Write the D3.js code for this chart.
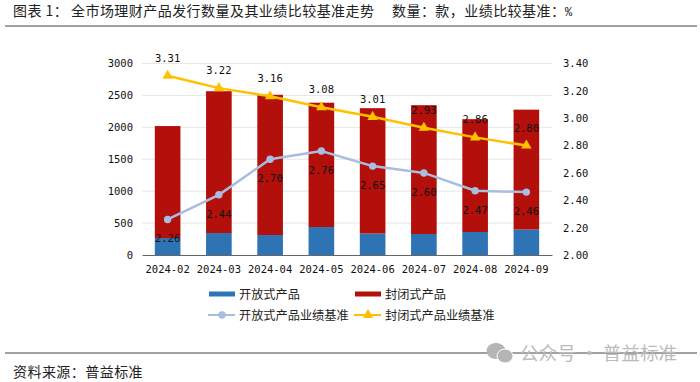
<!DOCTYPE html>
<html>
<head>
<meta charset="utf-8">
<script src="https://cdn.jsdelivr.net/npm/d3@7"></script>
<style>
body{margin:0;background:#fff;}
svg{display:block;}
text{font-family:"Noto Sans CJK SC",sans-serif;fill:#222;}
.num text,text.num{font-family:"DejaVu Sans Mono",monospace;font-size:10.5px;fill:#111;}
</style>
</head>
<body>
<script>
var months = ["2024-02","2024-03","2024-04","2024-05","2024-06","2024-07","2024-08","2024-09"];
var openCount = [266,344,313,438,336,329,360,399];
var closedCount = [1754,2222,2197,1948,1964,2018,1768,1878];
var openRate = [2.26,2.44,2.70,2.76,2.65,2.60,2.47,2.46];
var closedRate = [3.31,3.22,3.16,3.08,3.01,2.93,2.86,2.80];
var countTicks = [0,500,1000,1500,2000,2500,3000];
var rateTicks = [2.0,2.2,2.4,2.6,2.8,3.0,3.2,3.4];

const RED = "#b30f0b", BLUE = "#2e74b5", PALE = "#a9bde0", GOLD = "#ffc000";

var translate = function(x,y){
	return `translate(${x},${y})`;
};

var svg = d3.select('body').append('svg').attr("width",700).attr("height",382);

var xScale = d3.scaleBand().domain(months).range([142,552]).paddingInner(0.5).paddingOuter(0.25);
var yCount = d3.scaleLinear().domain([0,3000]).range([255,63.5]);
var yRate = d3.scaleLinear().domain([2,3.4]).range([255,63.5]);
var cx = function(i){ return xScale(months[i]) + xScale.bandwidth()/2; };

// header and footer
var writeHead = function(x,y,word){
	return svg.append('text').attr('x',x).attr('y',y).attr('font-size',14)
		.attr('letter-spacing',0.45).text(word);
};
writeHead(13,16.4,"图表 1：");
writeHead(71,16.4,"全市场理财产品发行数量及其业绩比较基准走势");
writeHead(392,16.4,"数量：款，业绩比较基准：");
svg.append('text').attr('x',565).attr('y',16).attr('font-size',12)
	.attr('style','font-family:"Liberation Mono",monospace').text("%");
svg.append('line').attr('x1',5).attr('x2',697).attr('y1',26).attr('y2',26).attr('stroke','#444').attr('stroke-width',1);
svg.append('line').attr('x1',5).attr('x2',697).attr('y1',353).attr('y2',353).attr('stroke','#444').attr('stroke-width',1);
writeHead(13,376.5,"资料来源：普益标准");

// grid
svg.append('g').selectAll('line').data(countTicks.slice(1)).join('line')
	.attr('x1',142).attr('x2',552)
	.attr('y1',d=>yCount(d)).attr('y2',d=>yCount(d))
	.attr('stroke','#e6e6e6').attr('stroke-width',1);

// bars
svg.append('g').selectAll('rect').data(openCount).join('rect')
	.attr('x',(d,i)=>xScale(months[i])).attr('width',xScale.bandwidth())
	.attr('y',d=>yCount(d)).attr('height',d=>yCount(0)-yCount(d))
	.attr('fill',BLUE);
svg.append('g').selectAll('rect').data(closedCount).join('rect')
	.attr('x',(d,i)=>xScale(months[i])).attr('width',xScale.bandwidth())
	.attr('y',(d,i)=>yCount(d+openCount[i])).attr('height',d=>yCount(0)-yCount(d))
	.attr('fill',RED);

// axes
var xAxis = svg.append('g').attr('class','num').attr('transform',translate(0,255))
	.call(d3.axisBottom(xScale).tickSize(0).tickPadding(10.5));
xAxis.select('.domain').attr('stroke','#666').attr('stroke-width',1);

var leftAxis = svg.append('g').attr('class','num').attr('transform',translate(142,0))
	.call(d3.axisLeft(yCount).tickValues(countTicks).tickFormat(d3.format("d")).tickSize(0).tickPadding(9));
leftAxis.select('.domain').remove();

var rightAxis = svg.append('g').attr('class','num').attr('transform',translate(552,0))
	.call(d3.axisRight(yRate).tickValues(rateTicks).tickFormat(d3.format(".2f")).tickSize(0).tickPadding(11));
rightAxis.select('.domain').remove();

// lines
var generateLine = d3.line().x((d,i)=>cx(i)).y(d=>yRate(d));
var triangle = d3.symbol().type(d3.symbolTriangle).size(48);

svg.append('path').attr('d',generateLine(openRate)).attr('fill','none').attr('stroke',PALE).attr('stroke-width',2.5);
svg.append('g').selectAll('circle').data(openRate).join('circle')
	.attr('cx',(d,i)=>cx(i)).attr('cy',d=>yRate(d)).attr('r',3.7).attr('fill',PALE);

svg.append('path').attr('d',generateLine(closedRate)).attr('fill','none').attr('stroke',GOLD).attr('stroke-width',2.5);
svg.append('g').selectAll('path').data(closedRate).join('path')
	.attr('d',triangle).attr('fill',GOLD)
	.attr('transform',(d,i)=>translate(cx(i),yRate(d)));

// value labels
var writeLabels = function(values,dy){
	svg.append('g').selectAll('text').data(values).join('text')
		.attr('class','num').attr('text-anchor','middle')
		.attr('x',(d,i)=>cx(i)).attr('y',d=>yRate(d)+dy)
		.text(d=>d.toFixed(2));
};
writeLabels(closedRate,-14);
writeLabels(openRate,23);

// legend
var legend = svg.append('g').attr('font-size',12.2);
var swatch = function(x,y,color){
	legend.append('rect').attr('x',x).attr('y',y-2.5).attr('width',26).attr('height',5).attr('fill',color);
};
var legendLine = function(x,y,color){
	legend.append('line').attr('x1',x).attr('x2',x+27).attr('y1',y).attr('y2',y).attr('stroke',color).attr('stroke-width',2);
};
var legendText = function(x,y,word){
	legend.append('text').attr('x',x).attr('y',y+4.5).text(word);
};
swatch(209,294,BLUE);
legendText(239,294,"开放式产品");
swatch(355,294,RED);
legendText(385,294,"封闭式产品");
legendLine(208,315,PALE);
legend.append('circle').attr('cx',222).attr('cy',315).attr('r',3.7).attr('fill',PALE);
legendText(239,315,"开放式产品业绩基准");
legendLine(354,315,GOLD);
legend.append('path').attr('d',triangle).attr('fill',GOLD).attr('transform',translate(368,315));
legendText(385,315,"封闭式产品业绩基准");

// watermark
var mark = svg.append('g').attr('fill','#b5b5b5');
mark.append('ellipse').attr('cx',496).attr('cy',351).attr('rx',9.5).attr('ry',8);
mark.append('ellipse').attr('cx',505).attr('cy',356).attr('rx',8).attr('ry',7).attr('stroke','#fff').attr('stroke-width',1);
svg.append('text').attr('x',520).attr('y',360).attr('font-size',18.6).attr('style','fill:#bbb').text("公众号 · 普益标准");
</script>
</body>
</html>
